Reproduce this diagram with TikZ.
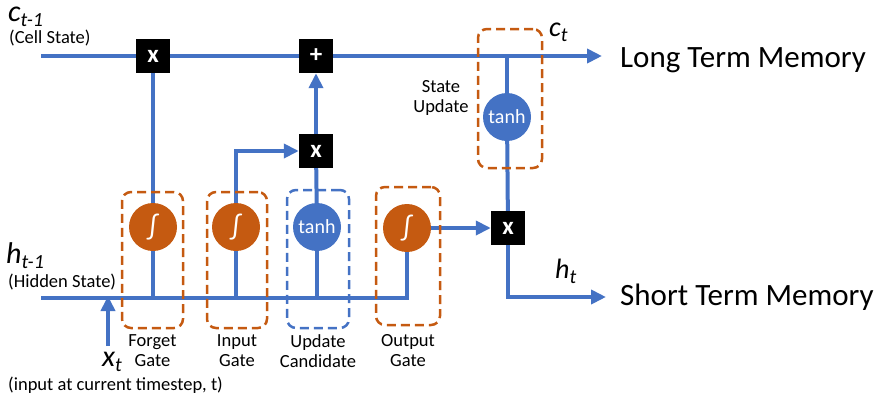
\documentclass[tikz,border=0pt]{standalone}
\usepackage{fontspec}
\setmainfont{Carlito}
\usetikzlibrary{arrows.meta, positioning}
\definecolor{lstmblue}{HTML}{4472C4}
\definecolor{lstmorange}{HTML}{C55A11}
\newcommand{\fsz}[1]{\fontsize{#1}{#1}\selectfont}
\newcommand{\svar}[3][30]{{\fsz{#1}\itshape #2\raisebox{-5pt}{\fsz{20}#3}}}
\tikzset{
    wire/.style={draw=lstmblue, line width=4pt},
    arrow/.style={wire, -{Triangle[length=15pt, width=14pt]}},
    opbox/.style={rectangle, fill=black, text=white, minimum size=34pt,
        inner sep=0pt, font=\fsz{25}\bfseries},
    gate/.style={circle, fill=lstmorange, text=white, minimum size=48pt,
        inner sep=0pt, font=\fsz{28}},
    actfn/.style={gate, fill=lstmblue, font=\fsz{20}},
    frame/.style={rectangle, rounded corners=9pt, draw=lstmorange,
        dash pattern=on 9pt off 5pt, line width=2.5pt},
    bluefrm/.style={frame, draw=lstmblue},
    caption/.style={align=center, inner sep=0pt, font=\fsz{18.5}},
    smalltext/.style={anchor=base west, inner sep=0pt, font=\fsz{18.5}},
    bigtext/.style={anchor=base west, inner sep=0pt, font=\fsz{31}},
}

\begin{document}
\begin{tikzpicture}[x=1pt, y=-1pt]
    \useasboundingbox (0,0) rectangle (889,399);

    % multiply / add boxes
    \node[opbox] (fmul) at (153,56) {x};
    \node[opbox] (add) at (316,56) {+};
    \node[opbox] (imul) at (316,151) {x};
    \node[opbox] (omul) at (508,228) {x};

    % gates
    \node[gate] (fsig) at (153,227) {∫};
    \node[gate] (isig) at (236,227) {∫};
    \node[actfn] (ucand) at (317,227) {tanh};
    \node[gate] (osig) at (407,228) {∫};
    \node[actfn] (stanh) at (507,117) {tanh};

    \coordinate (cin) at (41,56);
    \coordinate (cout) at (602,56);
    \coordinate (hin) at (41,298);
    \coordinate (hout) at (606,297);
    \coordinate (xin) at (108,346);

    % cell state
    \draw[wire] (cin) -- (fmul) -- (add);
    \draw[arrow] (add) -- (cout);
    \draw[wire] (fmul) -- (fsig);
    \draw[arrow] (imul) -- (add);
    \draw[arrow] (isig) |- (imul);
    \draw[wire] (ucand) -- (imul);

    % hidden state
    \draw[wire] (hin) -- (osig |- hin) -- (osig);
    \draw[wire] (fsig) -- (fsig |- hin);
    \draw[wire] (isig) -- (isig |- hin);
    \draw[wire] (ucand) -- (ucand |- hin);
    \draw[arrow] (xin) -- ([yshift=2pt]xin |- hin);

    % output
    \draw[arrow] (osig) -- (omul);
    \draw[wire] (stanh) -- (stanh |- cin);
    \draw[wire] (stanh) -- (omul);
    \draw[arrow] (omul) |- (hout);

    % dashed frames
    \node[frame, minimum width=61pt, minimum height=136pt] (ffrm) at (152.5,260) {};
    \node[frame, minimum width=60pt, minimum height=136pt] (ifrm) at (237,260) {};
    \node[bluefrm, minimum width=62pt, minimum height=138pt] (ufrm) at (318,259) {};
    \node[frame, minimum width=64pt, minimum height=138pt] (ofrm) at (408,256) {};
    \node[frame, minimum width=64pt, minimum height=139pt] (sfrm) at (510,98.5) {};

    % labels
    \node[caption, below=5pt of ffrm] (flab) {Forget\\[1.5pt]Gate};
    \node[caption, below=5pt of ifrm] (ilab) {Input\\[1.5pt]Gate};
    \node[caption, below=5pt of ufrm] (ulab) {Update\\[1.5pt]Candidate};
    \node[caption, below=8pt of ofrm] (olab) {Output\\[1.5pt]Gate};
    \node[caption, anchor=north] (slab) at (441,80) {State\\[1.5pt]Update};

    \node[anchor=base west, inner sep=0pt] (cprev) at (8,21) {\svar{c}{t-1}};
    \node[smalltext] (cnote) at (9,43) {(Cell State)};
    \node[anchor=base west, inner sep=0pt] (hprev) at (6,263) {\svar{h}{t-1}};
    \node[smalltext] (hnote) at (8,287) {(Hidden State)};
    \node[anchor=base west, inner sep=0pt] (xcur) at (102,366) {\svar{x}{t}};
    \node[smalltext] (xnote) at (8,390) {(input at current timestep, t)};
    \node[anchor=base west, inner sep=0pt] (cnew) at (549,36) {\svar[28]{c}{t}};
    \node[anchor=base west, inner sep=0pt] (hnew) at (555,278) {\svar[28]{h}{t}};

    \node[bigtext] (ltm) at (620,67) {Long Term Memory};
    \node[bigtext] (stm) at (620,305) {Short Term Memory};
\end{tikzpicture}
\end{document}
